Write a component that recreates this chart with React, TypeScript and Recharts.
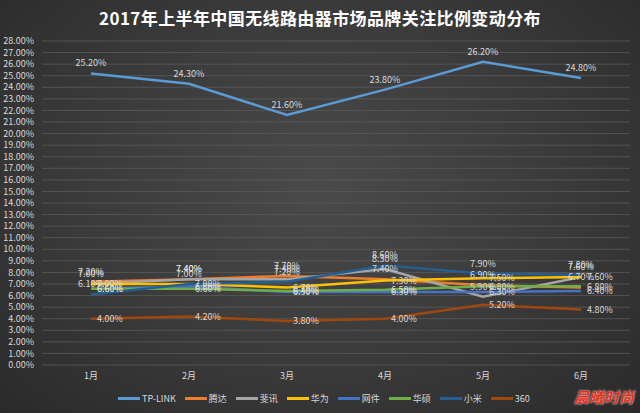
import React from 'react';
import { LineChart, Line, XAxis, YAxis, CartesianGrid, LabelList } from 'recharts';

const months = ['1月', '2月', '3月', '4月', '5月', '6月'];
const yTicks = [0, 1, 2, 3, 4, 5, 6, 7, 8, 9, 10, 11, 12, 13, 14, 15, 16, 17, 18, 19, 20, 21, 22, 23, 24, 25, 26, 27, 28];

const tplink = [25.2, 24.3, 21.6, 23.8, 26.2, 24.8];
const tenda = [7.2, 7.4, 7.7, 7.4, 6.9, 6.7];
const phicomm = [7.0, 7.4, 7.4, 8.3, 5.9, 7.6];
const huawei = [7.0, 7.0, 6.7, 7.3, 7.5, 7.6];
const netgear = [6.6, 6.8, 6.3, 6.3, 6.3, 6.4];
const asus = [6.6, 6.6, 6.4, 6.5, 6.8, 6.8];
const xiaomi = [6.1, 7.0, 7.2, 8.6, 7.9, 7.8];
const s360 = [4.0, 4.2, 3.8, 4.0, 5.2, 4.8];

const series = [
  { key: 'TP-LINK', values: tplink, color: '#5B9BD5', pos: 'top' },
  { key: '腾达', values: tenda, color: '#ED7D31', pos: 'top' },
  { key: '斐讯', values: phicomm, color: '#A5A5A5', pos: 'top' },
  { key: '华为', values: huawei, color: '#FFC000', pos: 'right' },
  { key: '网件', values: netgear, color: '#4472C4', pos: 'right' },
  { key: '华硕', values: asus, color: '#70AD47', pos: 'right' },
  { key: '小米', values: xiaomi, color: '#255E91', pos: 'top' },
  { key: '360', values: s360, color: '#9E480E', pos: 'right' },
];

const data = months.map((m, i) => {
  const row: any = { month: m };
  series.forEach((s) => {
    row[s.key] = s.values[i];
  });
  return row;
});

const fmt = (v: any) => Number(v).toFixed(2) + '%';
const font = '"Noto Sans CJK SC", "Noto Sans", sans-serif';

export default function App() {
  return (
    <div
      style={{
        position: 'absolute',
        left: 0,
        top: 0,
        width: 640,
        height: 413,
        overflow: 'hidden',
        background: 'radial-gradient(ellipse at 50% 45%, #4a4a4a 0%, #3a3a3a 55%, #2a2a2a 100%)',
        fontFamily: font,
      }}
    >
      <div
        style={{
          position: 'absolute',
          top: 5,
          left: 0,
          width: 640,
          textAlign: 'center',
          color: '#ffffff',
          fontSize: 17,
          fontWeight: 'bold',
          letterSpacing: 0.4,
        }}
      >
        2017年上半年中国无线路由器市场品牌关注比例变动分布
      </div>
      <LineChart
        width={640}
        height={413}
        data={data}
        margin={{ top: 41, right: 10, bottom: 36, left: 0 }}
        style={{ position: 'absolute', left: 0, top: 0 }}
      >
        <CartesianGrid vertical={false} stroke="#5a5a5a" strokeWidth={0.8} />
        <XAxis
          dataKey="month"
          axisLine={false}
          tickLine={false}
          height={12}
          padding={{ left: 49, right: 49 }}
          tick={{ fill: '#d9d9d9', fontSize: 9, fontFamily: font }}
          interval={0}
        />
        <YAxis
          width={42}
          domain={[0, 28]}
          ticks={yTicks}
          interval={0}
          axisLine={false}
          tickLine={false}
          tickFormatter={fmt}
          tick={{ fill: '#d9d9d9', fontSize: 9, fontFamily: font }}
        />
        {series.map((s) => (
          <Line
            key={s.key}
            dataKey={s.key}
            stroke={s.color}
            strokeWidth={2.5}
            dot={false}
            isAnimationActive={false}
          >
            <LabelList
              dataKey={s.key}
              position={s.pos as any}
              offset={s.pos === 'top' ? 7 : 6}
              formatter={fmt}
              fill="#d9d9d9"
              fontSize={9}
              fontFamily={font}
            />
          </Line>
        ))}
      </LineChart>
      <div
        style={{
          position: 'absolute',
          top: 392,
          left: 118,
          display: 'flex',
          alignItems: 'center',
          color: '#d9d9d9',
          fontSize: 9,
        }}
      >
        {series.map((s) => (
          <div key={s.key} style={{ display: 'flex', alignItems: 'center', marginRight: 9 }}>
            <div style={{ width: 22, height: 3, background: s.color, marginRight: 2 }} />
            <span>{s.key}</span>
          </div>
        ))}
      </div>
      <div
        style={{
          position: 'absolute',
          right: 6,
          top: 386,
          color: '#e03020',
          fontSize: 15,
          fontWeight: 'bold',
          fontStyle: 'italic',
          textShadow: '0 0 2px #fff',
        }}
      >
        晨曦时尚
      </div>
    </div>
  );
}
